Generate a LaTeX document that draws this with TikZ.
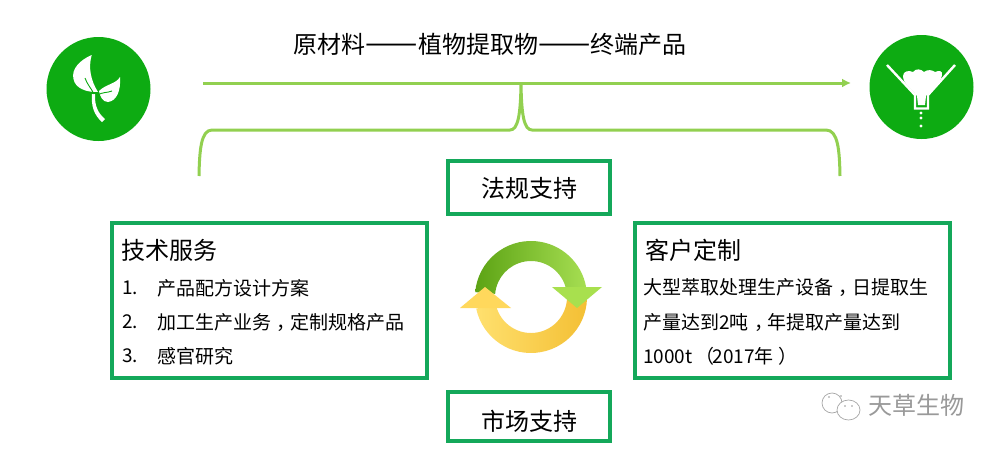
\documentclass[tikz,border=0pt]{standalone}
\usepackage{fontspec}
\setmainfont{Noto Sans CJK SC}
\usetikzlibrary{arrows.meta}
\definecolor{lime}{HTML}{92D050}
\definecolor{boxgreen}{HTML}{14A85A}
\definecolor{disc}{HTML}{0DAB12}
\newcommand{\midcomma}{\makebox[1em][l]{\hspace{.3em}，}}
\newcommand{\longdash}{\scalebox{1.3}[1.25]{——}}
\tikzset{
 box/.style={draw=boxgreen,line width=3.2pt,fill=white,inner sep=0pt},
 big/.style={font=\fontsize{24}{24}\selectfont,text=black,inner sep=0pt},
 small/.style={font=\fontsize{19}{19}\selectfont,text=black,anchor=west,inner sep=0pt},
 conn/.style={draw=lime,line width=3pt},
 disk/.style={circle,fill=disc,inner sep=0pt,minimum size=104pt},
 wmark/.style={font=\fontsize{24}{24}\selectfont,text=black!40,anchor=west,inner sep=0pt}
}
\begin{document}
\begin{tikzpicture}[x=1pt,y=-1pt]
\useasboundingbox (0,0) rectangle (996,450);
\fill[white] (0,0) rectangle (996,450);
% discs
\node[disk] (d1) at (98.5,89) {};
\node[disk] (d2) at (921.5,87) {};
% leaf icon
\fill[white] (91.7,55) .. controls (80,60) and (71,69) .. (73.5,79) .. controls (75,88) and (86,92.5) .. (98,92) .. controls (91,81) and (88,68) .. (91.7,55) -- cycle;
\fill[white] (120,77) .. controls (116,84) and (106,84) .. (99,91) .. controls (100,97) and (103,102) .. (108,102) .. controls (117,101) and (121,90) .. (120,77) -- cycle;
\fill[white] (92,94) .. controls (91,106) and (94,115) .. (102,122) -- (105,119) .. controls (98,113) and (94.5,106) .. (95,94) -- cycle;
\draw[disc,line width=.9pt] (85,78) .. controls (87,84) and (91,88) .. (94,94);
\draw[disc,line width=.9pt] (98,95) .. controls (102,92) and (107,93) .. (112,91);
% funnel icon
\draw[white,line width=2.4pt,line join=miter] (887,65) -- (915,95) -- (915,108.5) -- (928,108.5) -- (928,95) -- (955,65);
\fill[white] (903,76) .. controls (903,71) and (909,70) .. (913,72) .. controls (916,68) and (921,69) .. (924,72) .. controls (928,69) and (932,70) .. (935,72) .. controls (939,70) and (943,71) .. (942,75) .. controls (941,83) and (931,90) .. (926,96) -- (925,105) -- (918,105) -- (917,96) .. controls (912,89) and (903,84) .. (903,76) -- cycle;
\fill[white] (921,113) circle (1.7) (921,118) circle (1.7) (921,126) circle (1.7);
% title
\node[big] (title) at (490,44) {原材料\longdash 植物提取物\longdash 终端产品};
% connectors
\coordinate (as) at (203,83);
\coordinate (ae) at (851,83);
\coordinate (bl) at (199,176);
\coordinate (br) at (840,176);
\coordinate (bm) at (521,84);
\draw[conn,-{Latex[length=9pt,width=9pt]}] (as) -- (ae);
\draw[conn] (bl) .. controls (199.5,150) and (201,130) .. (212,130) -- (510,130) .. controls (518,130) and (520.5,115) .. (bm) .. controls (521.5,115) and (524,130) .. (532,130) -- (826,130) .. controls (838,130) and (839.5,150) .. (br);
% boxes
\node[box,minimum width=162pt,minimum height=53pt] (law) at (529,187.5) {};
\node[big] at (529,188) {法规支持};
\node[box,minimum width=162pt,minimum height=49pt] (mkt) at (529,416.5) {};
\node[big] at (529,421) {市场支持};
\node[box,minimum width=315pt,minimum height=155pt] (tech) at (269.5,300.5) {};
\node[box,minimum width=315pt,minimum height=155pt] (cust) at (792.5,300.5) {};
% left box text
\node[big,anchor=west] (t1) at (121,250) {技术服务};
\node[small] (n1) at (122,288) {1.};
\node[small] (n2) at (122,322) {2.};
\node[small] (n3) at (122,356) {3.};
\node[small] (l1) at (157,288) {产品配方设计方案};
\node[small] (l2) at (157,322) {加工生产业务\midcomma 定制规格产品};
\node[small] (l3) at (157,356) {感官研究};
% right box text
\node[big,anchor=west] (t2) at (645,250) {客户定制};
\node[small] (r1) at (643,288) {大型萃取处理生产设备\midcomma 日提取生};
\node[small] (r2) at (643,322) {产量达到2吨\midcomma 年提取产量达到};
\node[small] (r3) at (643,356) {1000t\makebox[20pt][l]{\hspace{3pt}（}2017年\makebox[20pt][l]{\hspace{5pt}）}};
% cycle
\begin{scope}[shift={(531,297)},y=1pt]
\shade[left color={rgb,255:red,255;green,224;blue,110},right color={rgb,255:red,243;green,190;blue,50}]
 (10:56pt) arc[start angle=10,end angle=-168,radius=56pt] -- (-168:36pt) arc[start angle=-168,end angle=10,radius=36pt] -- cycle;
\shade[left color={rgb,255:red,92;green,163;blue,20},right color={rgb,255:red,166;green,222;blue,82}]
 (175:56pt) arc[start angle=175,end angle=10,radius=56pt] -- (10:36pt) arc[start angle=10,end angle=175,radius=36pt] -- cycle;
\end{scope}
\fill[fill={rgb,255:red,168;green,224;blue,78}] (552,287) -- (602,287) -- (577,308) -- cycle;
\fill[fill={rgb,255:red,255;green,216;blue,92}] (460,308) -- (485,287) -- (511,308) -- cycle;
% watermark
\draw[black!35,line width=.7pt] (832,403) ellipse (10 and 10);
\fill[white] (848.5,410) ellipse (11.5 and 10);
\draw[black!35,line width=.7pt] (848.5,410) ellipse (11.5 and 10);
\fill[black!40] (845,406) circle (.9) (852,406) circle (.9) (829,397) circle (.9) (841,396) circle (.9);
\node[wmark] (wm) at (868,405) {天草生物};
\end{tikzpicture}
\end{document}
